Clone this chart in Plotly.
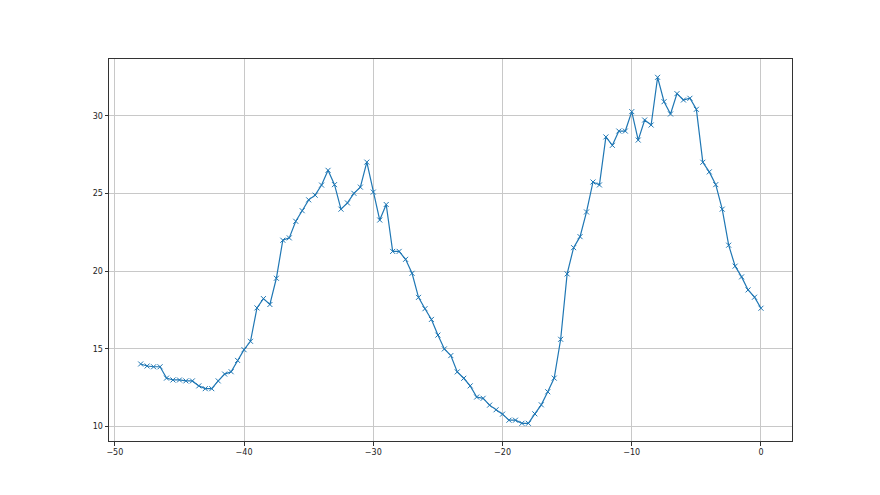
import plotly.graph_objects as go

x_values = [-48 + 0.5 * i for i in range(97)]
y_values = [
    14.03, 13.9, 13.85, 13.85, 13.12, 13.0, 13.0, 12.94, 12.94, 12.62,
    12.44, 12.44, 12.94, 13.38, 13.53, 14.26, 14.95,
    15.49, 17.64, 18.24, 17.86, 19.55, 22.0, 22.15, 23.22, 23.9, 24.6,
    24.9, 25.55, 26.5, 25.58, 24.0, 24.4, 25.02, 25.42, 27.03, 25.1,
    23.3, 24.3, 21.28, 21.28, 20.77, 19.87, 18.32, 17.59, 16.9, 15.89,
    15.0, 14.57, 13.52, 13.11, 12.62, 11.9, 11.82, 11.38, 11.08, 10.8,
    10.41, 10.41, 10.21, 10.21, 10.82, 11.4, 12.24, 13.12, 15.62, 19.83,
    21.52, 22.23, 23.82, 25.75, 25.56, 28.65, 28.11, 29.03, 29.03, 30.28,
    28.45, 29.74, 29.42, 32.49, 30.92, 30.13, 31.44, 31.03, 31.14, 30.43,
    27.02, 26.4, 25.58, 24.0, 21.68, 20.33, 19.64, 18.8, 18.33, 17.62,
]

fig = go.Figure(
    go.Scatter(
        x=x_values, y=y_values, mode="lines+markers",
        line=dict(color="#1f77b4", width=1.2),
        marker=dict(symbol="x-thin", size=5, color="#1f77b4",
                    line=dict(width=1, color="#1f77b4")),
    )
)

axis_common = dict(
    showgrid=True, gridcolor="#c8c8c8", gridwidth=1,
    showline=True, linecolor="#333333", linewidth=1, mirror=True,
    ticks="outside", ticklen=3.5, tickcolor="#333333", tickwidth=1,
    zeroline=False,
    tickfont=dict(family="DejaVu Sans", size=8, color="#222222"),
)

fig.update_layout(
    width=880, height=495,
    margin=dict(l=101, r=96, t=51, b=62),
    paper_bgcolor="white", plot_bgcolor="white",
    showlegend=False,
    xaxis=dict(range=[-50.45, 2.4], tickmode="linear", tick0=0, dtick=10, **axis_common),
    yaxis=dict(range=[9.07, 33.67], tickmode="linear", tick0=0, dtick=5, **axis_common),
)

fig.write_html("out.html")
